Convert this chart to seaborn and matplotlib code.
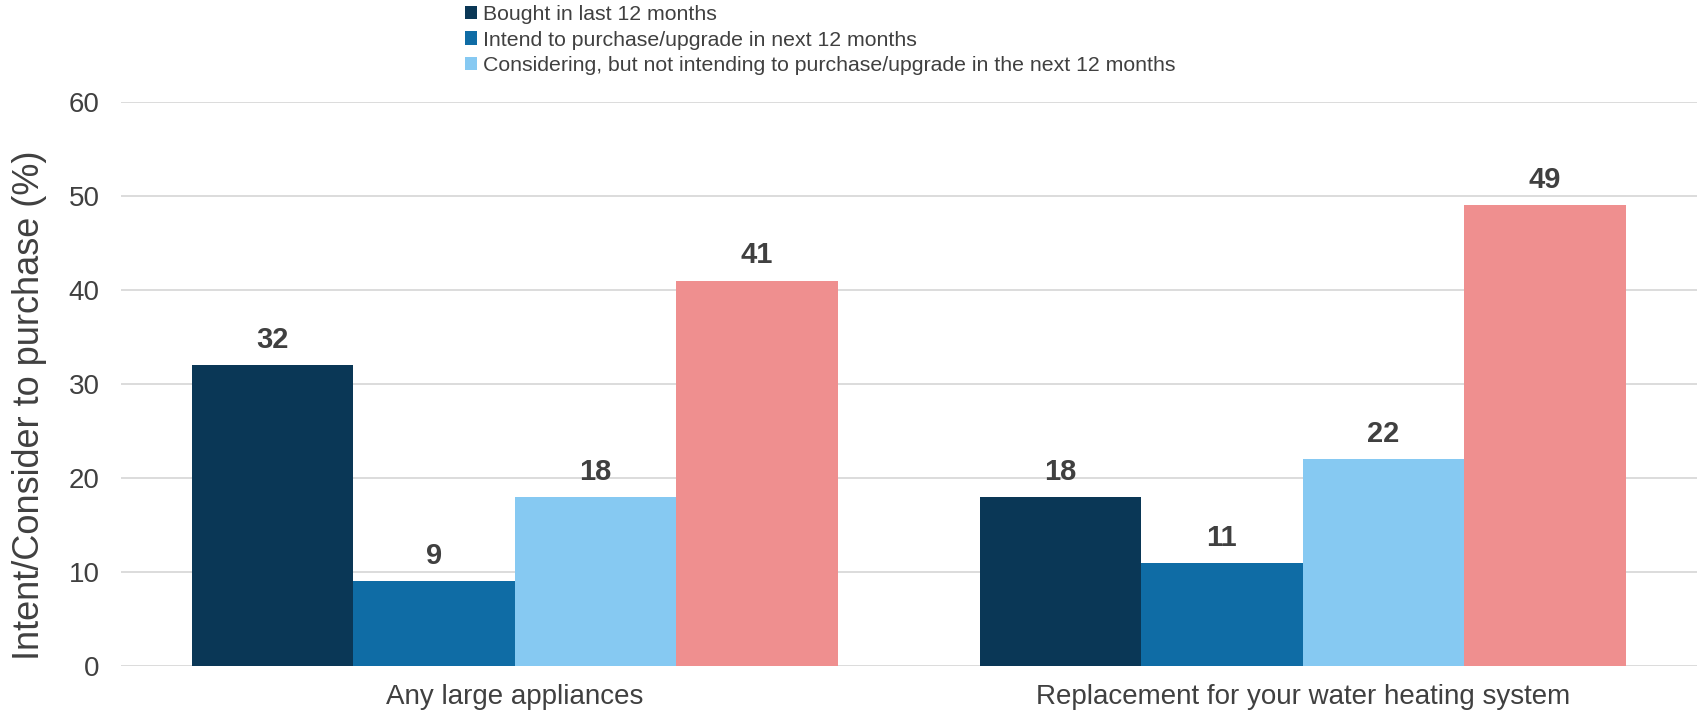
import pandas as pd
import matplotlib.pyplot as plt
import seaborn as sns

sns.set_style("white")
plt.rcParams["font.family"] = ["Liberation Sans", "DejaVu Sans"]

# data
categories = ["Any large appliances", "Replacement for your water heating system"]
series = [
    "Bought in last 12 months",
    "Intend to purchase/upgrade in next 12 months",
    "Considering, but not intending to purchase/upgrade in the next 12 months",
    "Not considering",
]
bought = [32, 18]
intend = [9, 11]
considering = [18, 22]
not_considering = [41, 49]
colors = ["#0A3756", "#0F6CA5", "#86C9F2", "#EF8F8F"]

rows = []
for s, vals in zip(series, [bought, intend, considering, not_considering]):
    for c, v in zip(categories, vals):
        rows.append({"category": c, "series": s, "value": v})
df = pd.DataFrame(rows)

fig = plt.figure(figsize=(17, 7.17), dpi=100)
ax = fig.add_axes([0.071, 0.071, 0.927, 0.787])

sns.barplot(data=df, x="category", y="value", hue="series", hue_order=series,
            palette=colors, width=0.82, saturation=1, linewidth=0, ax=ax, legend=True)

text_col = "#404040"
for cont in ax.containers:
    ax.bar_label(cont, fmt="%d", padding=8, fontsize=21, fontweight="bold", color=text_col)

ax.set_ylim(0, 60)
ax.set_xlim(-0.5, 1.5)
ax.set_yticks(range(0, 61, 10))
ax.yaxis.grid(True, color="#D9D9D9", linewidth=1.3)
ax.set_axisbelow(True)
for sp in ax.spines.values():
    sp.set_visible(False)
ax.tick_params(axis="both", length=0, labelsize=20, colors=text_col)
ax.tick_params(axis="x", pad=13)
ax.tick_params(axis="y", pad=15)
ax.set_xlabel("")
ax.set_ylabel("Intent/Consider to purchase (%)", fontsize=26, color=text_col)
ax.yaxis.set_label_coords(-0.047, 0.463)

handles, labels = ax.get_legend_handles_labels()
ax.legend(handles[:3], labels[:3], loc="upper left", bbox_to_anchor=(0.272, 0.996),
          bbox_transform=fig.transFigure, frameon=False, fontsize=15.3,
          handlelength=0.6, handleheight=0.6, handletextpad=0.25, labelspacing=0.31,
          labelcolor=text_col, borderaxespad=0.0, borderpad=0.1)

fig.savefig("out.png", dpi=100)
